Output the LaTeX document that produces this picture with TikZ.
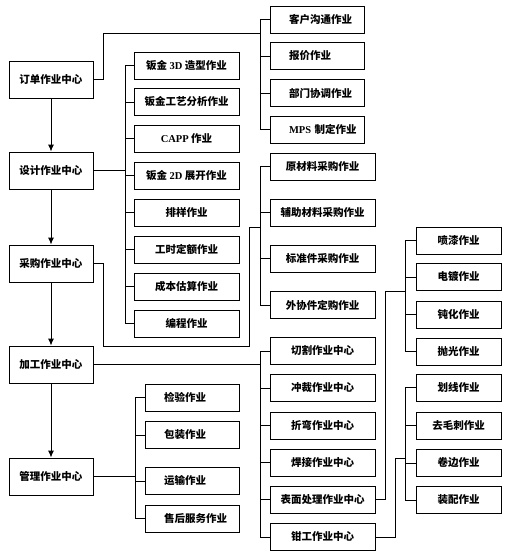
\documentclass[tikz,border=0pt]{standalone}
\usepackage{fontspec}
\setmainfont{Liberation Serif}
\newfontfamily\cjk{Noto Sans CJK SC}
\usetikzlibrary{arrows.meta}
\newcommand\lat[1]{{\rmfamily\bfseries #1}}

\begin{document}
\begin{tikzpicture}[
        x=1pt, y=-1pt,
        line width=0.9pt,
        >={Latex[length=7pt,width=6pt]},
        center/.style={
            draw, inner sep=0pt,
            minimum width=84pt, minimum height=37pt,
            font=\fontsize{10.5}{12}\selectfont\cjk\bfseries
        },
        job/.style={
            draw, inner sep=0pt,
            minimum width=#1, minimum height=27pt,
            font=\fontsize{10.5}{12}\selectfont\cjk\bfseries
        },
        leftjob/.style={
            job=94pt, align=left,
            text width=56pt, inner xsep=19pt
        }
    ]
        \useasboundingbox (0,0) rectangle (507,558);

        % Main chain of centres
        \node[center] (order) at (51,79.5) {订单作业中心};
        \node[center] (design) at (51,170.5) {设计作业中心};
        \node[center] (purchase) at (51,263.5) {采购作业中心};
        \node[center] (process) at (51,364.5) {加工作业中心};
        \node[center] (manage) at (51,476.5) {管理作业中心};

        \draw[->] (order) -- (design);
        \draw[->] (design) -- (purchase);
        \draw[->] (purchase) -- (process);
        \draw[->] (process) -- (manage);

        % Order jobs
        \node[leftjob] (ord1) at (317,19.5) {客户沟通作业};
        \node[leftjob] (ord2) at (317,56) {报价作业};
        \node[leftjob] (ord3) at (317,93) {部门协调作业};
        \node[leftjob] (ord4) at (317,129.5) {\lat{MPS}~制定作业};

        \coordinate (ordbus) at (260,33);
        \draw (order.east) -- ++(10,0) |- (ordbus);
        \draw (ordbus) |- (ord1.west);
        \draw (ordbus) |- (ord4.west);
        \draw (ordbus) |- (ord2.west);
        \draw (ordbus) |- (ord3.west);

        % Design jobs
        \node[job=105pt] (des1) at (186.5,65.5) {钣金 \lat{3D} 造型作业};
        \node[job=105pt] (des2) at (186.5,102) {钣金工艺分析作业};
        \node[job=105pt] (des3) at (186.5,138.5) {\lat{CAPP} 作业};
        \node[job=105pt] (des4) at (186.5,175.5) {钣金 \lat{2D} 展开作业};
        \node[job=105pt] (des5) at (186.5,212.5) {排样作业};
        \node[job=105pt] (des6) at (186.5,249.5) {工时定额作业};
        \node[job=105pt] (des7) at (186.5,286.5) {成本估算作业};
        \node[job=105pt] (des8) at (186.5,323.5) {编程作业};

        \foreach \i in {1,...,8}
            \draw (design.east) -- ++(32,0) |- (des\i.west);

        % Purchase jobs
        \node[job=105pt] (pur1) at (322.5,166.5) {原材料采购作业};
        \node[job=105pt] (pur2) at (322.5,212.5) {辅助材料采购作业};
        \node[job=105pt] (pur3) at (322.5,258.5) {标准件采购作业};
        \node[job=105pt] (pur4) at (322.5,305) {外协件定购作业};

        \coordinate (purbus) at (260,227);
        \draw (purchase.east) -- ++(10,0) |- (249,346) |- (purbus);
        \foreach \i in {1,...,4}
            \draw (purbus) |- (pur\i.west);

        % Process centres
        \node[job=105pt] (pro1) at (322.5,351) {切割作业中心};
        \node[job=105pt] (pro2) at (322.5,388) {冲裁作业中心};
        \node[job=105pt] (pro3) at (322.5,425.5) {折弯作业中心};
        \node[job=105pt] (pro4) at (322.5,462.5) {焊接作业中心};
        \node[job=105pt] (pro5) at (322.5,499.5) {表面处理作业中心};
        \node[job=105pt] (pro6) at (322.5,537) {钳工作业中心};

        \coordinate (probus) at (260,364.5);
        \draw (process.east) -- (probus);
        \foreach \i in {1,...,6}
            \draw (probus) |- (pro\i.west);

        % Surface jobs
        \node[job=85pt] (sur1) at (458.5,240.5) {喷漆作业};
        \node[job=85pt] (sur2) at (458.5,277) {电镀作业};
        \node[job=85pt] (sur3) at (458.5,314.5) {钝化作业};
        \node[job=85pt] (sur4) at (458.5,351.5) {抛光作业};

        \coordinate (surbus) at (405,291);
        \draw (pro5.east) -- ++(10,0) |- (surbus);
        \foreach \i in {1,...,4}
            \draw (surbus) |- (sur\i.west);

        % Fitter jobs
        \node[job=85pt] (fit1) at (458.5,387.5) {划线作业};
        \node[job=85pt] (fit2) at (458.5,425.5) {去毛刺作业};
        \node[job=85pt] (fit3) at (458.5,463) {卷边作业};
        \node[job=85pt] (fit4) at (458.5,500) {装配作业};

        \coordinate (fitbus) at (405,458);
        \draw (pro6.east) -- ++(20,0) |- (fitbus);
        \foreach \i in {1,...,4}
            \draw (fitbus) |- (fit\i.west);

        % Management jobs
        \node[leftjob] (man1) at (192,397.5) {检验作业};
        \node[leftjob] (man2) at (192,435) {包装作业};
        \node[leftjob] (man3) at (192,481) {运输作业};
        \node[leftjob] (man4) at (192,518.5) {售后服务作业};

        \foreach \i in {1,...,4}
            \draw (manage.east) -- ++(42,0) |- (man\i.west);
    \end{tikzpicture}
\end{document}
